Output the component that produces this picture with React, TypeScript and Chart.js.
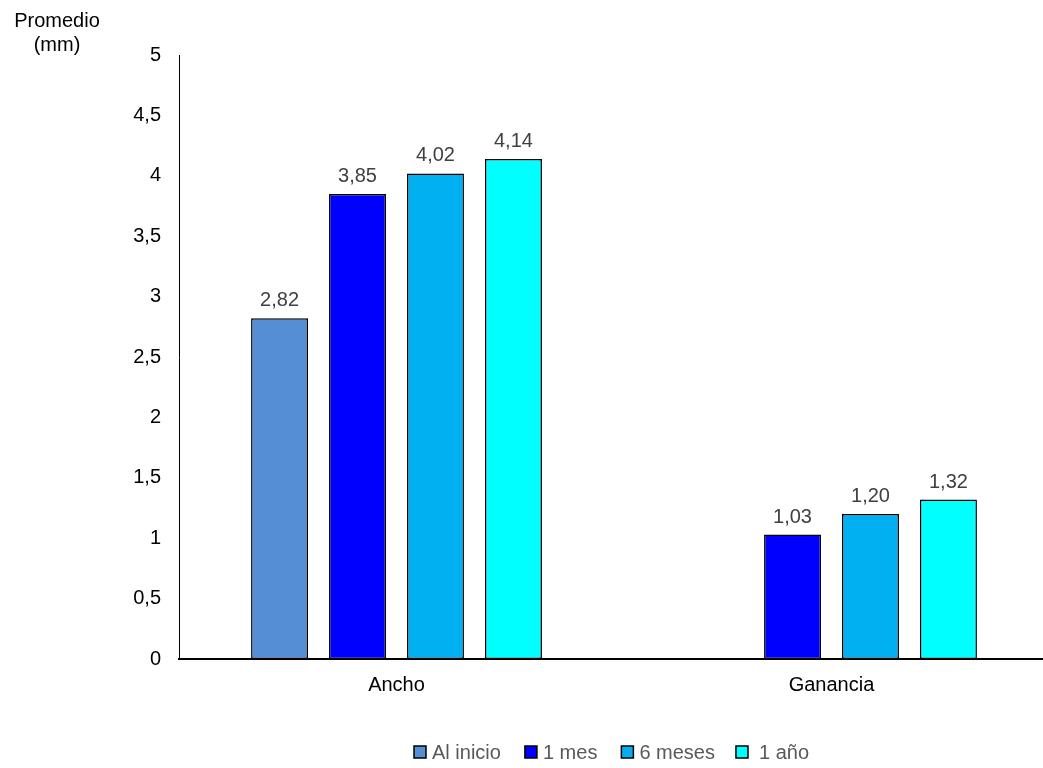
import React, { useEffect, useRef } from "react";
import { Chart, registerables } from "chart.js";

Chart.register(...registerables);

const categories = ["Ancho", "Ganancia"];
const seriesNames = ["Al inicio", "1 mes", "6 meses", "1 año"];
const alInicio: (number | null)[] = [2.82, null];
const unMes = [3.85, 1.03];
const seisMeses = [4.02, 1.2];
const unAno = [4.14, 1.32];
const seriesColors = ["#558ED5", "#0000FF", "#00B0F0", "#00FFFF"];
const yTitleLines = ["Promedio", "(mm)"];

const FONT = '"Liberation Sans", Arial, sans-serif';

const fmt = (v: number, d: number) => v.toFixed(d).replace(".", ",");

const labelsPlugin = {
  id: "valueLabels",
  afterDatasetsDraw(chart: any) {
    const ctx = chart.ctx;
    ctx.save();
    ctx.font = `20px ${FONT}`;
    ctx.fillStyle = "#404040";
    ctx.textAlign = "center";
    ctx.textBaseline = "alphabetic";
    chart.data.datasets.forEach((ds: any, i: number) => {
      const meta = chart.getDatasetMeta(i);
      meta.data.forEach((el: any, j: number) => {
        const v = ds.data[j];
        if (v === null || v === undefined) return;
        ctx.fillText(fmt(v, 2), el.x, el.y - 12);
      });
    });
    ctx.restore();
  },
};

const decorPlugin = {
  id: "decor",
  afterDraw(chart: any) {
    const ctx = chart.ctx;
    ctx.save();
    // axis title
    ctx.font = `20px ${FONT}`;
    ctx.fillStyle = "#000000";
    ctx.textAlign = "center";
    ctx.textBaseline = "alphabetic";
    ctx.fillText(yTitleLines[0], 57, 27);
    ctx.fillText(yTitleLines[1], 57, 51);
    // legend
    ctx.textAlign = "left";
    let x = 414;
    const boxY = 746;
    seriesNames.forEach((name, i) => {
      const isLast = i === seriesNames.length - 1;
      const extra = isLast ? 5 : 0;
      ctx.fillStyle = seriesColors[i];
      ctx.fillRect(x, boxY, 12, 12);
      ctx.strokeStyle = "#000000";
      ctx.lineWidth = 1.5;
      ctx.strokeRect(x, boxY, 12, 12);
      ctx.fillStyle = "#595959";
      ctx.fillText(name, x + 18 + extra, 759);
      const gap = i === seriesNames.length - 2 ? 21 : 24;
      x += 18 + extra + ctx.measureText(name).width + gap;
    });
    ctx.restore();
  },
};

export default function App() {
  const ref = useRef<HTMLCanvasElement>(null);
  useEffect(() => {
    if (!ref.current) return;
    const series = [alInicio, unMes, seisMeses, unAno];
    const chart = new Chart(ref.current, {
      type: "bar",
      data: {
        labels: categories,
        datasets: series.map((d, i) => ({
          label: seriesNames[i],
          data: d as any,
          backgroundColor: seriesColors[i],
          borderColor: "#000000",
          borderWidth: 1.5,
          borderSkipped: false,
          categoryPercentage: 0.717,
          barPercentage: 0.73,
        })),
      },
      options: {
        responsive: false,
        animation: false,
        layout: { padding: { left: 0, top: 55, right: 11, bottom: 0 } },
        plugins: {
          legend: { display: false },
          tooltip: { enabled: false },
          title: { display: false },
        },
        scales: {
          x: {
            grid: { display: false, drawTicks: false },
            border: { display: true, color: "#000000", width: 2 },
            ticks: {
              color: "#000000",
              font: { family: FONT, size: 20 },
              padding: 14,
            },
            afterFit(scale: any) {
              scale.height = 109;
            },
          },
          y: {
            min: 0,
            max: 5,
            grid: { display: false, drawTicks: false },
            border: { display: true, color: "#000000", width: 1 },
            ticks: {
              stepSize: 0.5,
              color: "#000000",
              font: { family: FONT, size: 20 },
              padding: 18,
              callback: (v: any) => String(v).replace(".", ","),
            },
            afterFit(scale: any) {
              scale.width = 179;
            },
          },
        },
      },
      plugins: [labelsPlugin, decorPlugin],
    });
    return () => chart.destroy();
  }, []);
  return (
    <div
      style={{
        position: "fixed",
        left: 0,
        top: 0,
        width: 1043,
        height: 768,
        overflow: "hidden",
        background: "#ffffff",
      }}
    >
      <canvas ref={ref} width={1060} height={768} style={{ display: "block" }} />
    </div>
  );
}
